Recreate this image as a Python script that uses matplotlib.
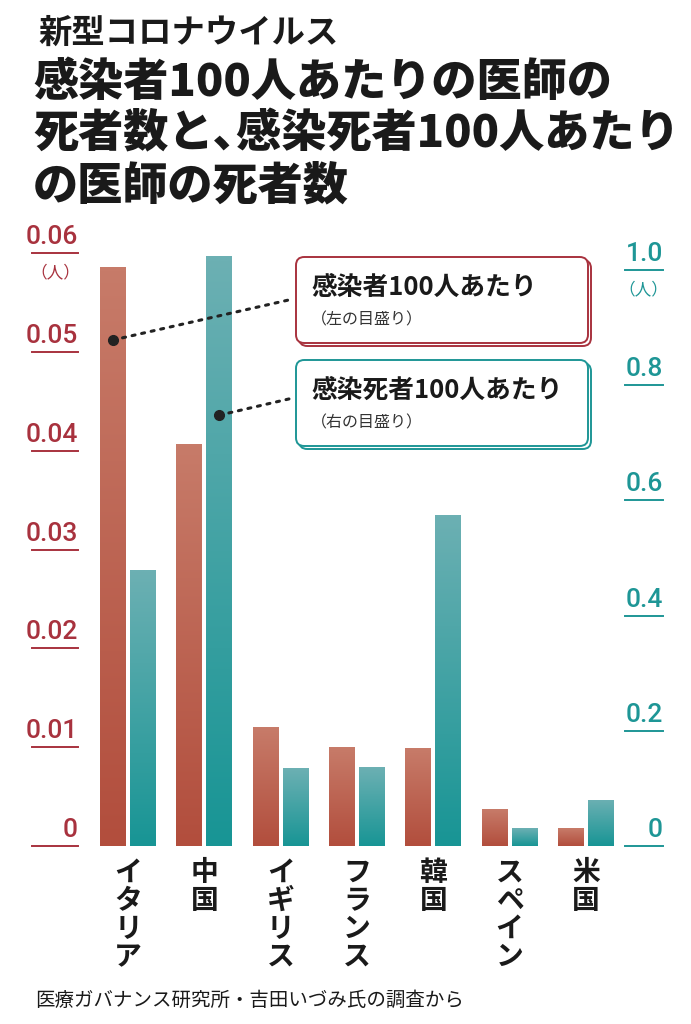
import numpy as np
import matplotlib
matplotlib.use("Agg")
import matplotlib.pyplot as plt
from matplotlib import transforms
from matplotlib.patches import FancyBboxPatch, ConnectionPatch

plt.rcParams['font.family'] = ['Noto Sans CJK JP', 'DejaVu Sans']

# data
countries = ['イタリア', '中国', 'イギリス', 'フランス', '韓国', 'スペイン', '米国']
per_infected = [0.0586, 0.0407, 0.0120, 0.0100, 0.0099, 0.0037, 0.0018]   # left scale
per_dead = [0.479, 1.024, 0.135, 0.137, 0.575, 0.031, 0.080]               # right scale
left_ticks = [0, 0.01, 0.02, 0.03, 0.04, 0.05, 0.06]
left_labels = ['0', '0.01', '0.02', '0.03', '0.04', '0.05', '0.06']
right_ticks = [0, 0.2, 0.4, 0.6, 0.8, 1.0]
right_labels = ['0', '0.2', '0.4', '0.6', '0.8', '1.0']

W, H = 691, 1024
RED = '#a8323e'
TEAL = '#1e9696'
INK = '#1a1a1a'
NUMFONT = ['Liberation Sans Narrow', 'Roboto', 'DejaVu Sans']


def fx(px):
    return px / W


def fy(py):
    return 1 - py / H


def grad_bar(ax, bar, top, bot):
    x0, y0 = bar.get_x(), bar.get_y()
    w, h = bar.get_width(), bar.get_height()
    t = np.linspace(0, 1, 64)[:, None]
    c1 = np.array(matplotlib.colors.to_rgb(top))
    c2 = np.array(matplotlib.colors.to_rgb(bot))
    arr = (c1 * (1 - t) + c2 * t).reshape(64, 1, 3)
    im = ax.imshow(arr, extent=[x0, x0 + w, y0, y0 + h], aspect='auto',
                   origin='upper', interpolation='bilinear', zorder=3)
    im.set_clip_path(bar)


def main():
    fig = plt.figure(figsize=(W / 100, H / 100), dpi=100)
    ax = fig.add_axes([fx(85), fy(846), fx(620) - fx(85), fy(230) - fy(846)])
    ax2 = ax.twinx()

    x = np.arange(len(countries))
    bw = 26 / 76.33
    off = 15 / 76.33
    bars1 = ax.bar(x - off, per_infected, bw, color='#bd6353', zorder=2)
    bars2 = ax2.bar(x + off, per_dead, bw, color='#4aa3a5', zorder=2)
    for b in bars1:
        grad_bar(ax, b, '#c77b69', '#b24e3d')
    for b in bars2:
        grad_bar(ax2, b, '#6cb0b3', '#189595')

    xl = ((85 - 128) / 76.33, (620 - 128) / 76.33)
    ax.set_xlim(*xl)
    ax2.set_xlim(*xl)
    ax.set_ylim(0, 616 / 9883)
    ax2.set_ylim(0, 616 / 576)
    for a in (ax, ax2):
        for s in a.spines.values():
            s.set_visible(False)
        a.set_xticks([])
        a.set_yticks([])
        a.patch.set_alpha(0)

    # left scale
    bl = transforms.blended_transform_factory(fig.transFigure, ax.transData)
    bl_up = transforms.offset_copy(bl, fig=fig, y=9, units='dots')
    for v, lab in zip(left_ticks, left_labels):
        ax.plot([fx(32), fx(78)], [v, v], color=RED, lw=1.4, transform=bl, clip_on=False)
        ax.text(fx(78), v, lab, transform=bl_up, ha='right', va='baseline',
                fontsize=19, fontweight='medium', color=RED, family=NUMFONT)
    fig.text(fx(55), fy(273), '（人）', ha='center', va='center', fontsize=12, color=RED)

    # right scale
    br = transforms.blended_transform_factory(fig.transFigure, ax2.transData)
    br_up = transforms.offset_copy(br, fig=fig, y=9, units='dots')
    for v, lab in zip(right_ticks, right_labels):
        ax2.plot([fx(625), fx(663)], [v, v], color=TEAL, lw=1.4, transform=br, clip_on=False)
        ax2.text(fx(663), v, lab, transform=br_up, ha='right', va='baseline',
                 fontsize=19, fontweight='medium', color=TEAL, family=NUMFONT)
    fig.text(fx(643), fy(290), '（人）', ha='center', va='center', fontsize=12, color=TEAL)

    # country names, written vertically
    tx = transforms.offset_copy(ax.get_xaxis_transform(), fig=fig, y=-13, units='dots')
    for i, name in enumerate(countries):
        ax.text(i, 0, '\n'.join(name), transform=tx, ha='center', va='top',
                fontsize=20, fontweight='bold', color=INK, linespacing=1.0)

    # legend boxes
    boxes = [(257, '感染者100人あたり', '（左の目盛り）', RED),
             (360, '感染死者100人あたり', '（右の目盛り）', TEAL)]
    for top, t1, t2, col in boxes:
        for dx, dy in ((3, 3), (0, 0)):
            p = FancyBboxPatch((fx(296 + dx), fy(top + 86 + dy)), fx(292), 86 / H,
                               boxstyle='round,pad=0,rounding_size=0.012',
                               transform=fig.transFigure, facecolor='white',
                               edgecolor=col, lw=1.4, mutation_aspect=W / H)
            fig.add_artist(p)
        fig.text(fx(311), fy(top + 30), t1, ha='left', va='center', fontsize=18.5,
                 fontweight='bold', color=INK)
        fig.text(fx(311), fy(top + 63), t2, ha='left', va='center', fontsize=11.5,
                 color='#333333')

    # leader lines with dots
    leaders = [(ax, -off, 0.0512, 299), (ax2, 1 + off, 0.748, 398)]
    for a, xd, yd, py in leaders:
        con = ConnectionPatch(xyA=(xd, yd), coordsA=a.transData,
                              xyB=(293, H - py), coordsB='figure pixels',
                              linestyle=(0, (1, 2.2)), lw=2.2, color='#222222')
        fig.add_artist(con)
        ax2.plot([xd], [yd], 'o', color='#222222', ms=7, transform=a.transData,
                 clip_on=False, zorder=6)

    # titles
    fig.text(fx(38), fy(33), '新型コロナウイルス', ha='left', va='center',
             fontsize=24, fontweight='bold', color=INK)
    title = ['感染者100人あたりの医師の', '死者数と､感染死者100人あたり', 'の医師の死者数']
    for k, line in enumerate(title):
        fig.text(fx(33), fy(82 + 52 * k), line, ha='left', va='center',
                 fontsize=32.5, fontweight='black', color=INK)

    fig.text(fx(35), fy(1000), '医療ガバナンス研究所・吉田いづみ氏の調査から',
             ha='left', va='center', fontsize=14, color=INK)

    fig.savefig('out.png', dpi=100, facecolor='white')


if __name__ == "__main__":
    main()
